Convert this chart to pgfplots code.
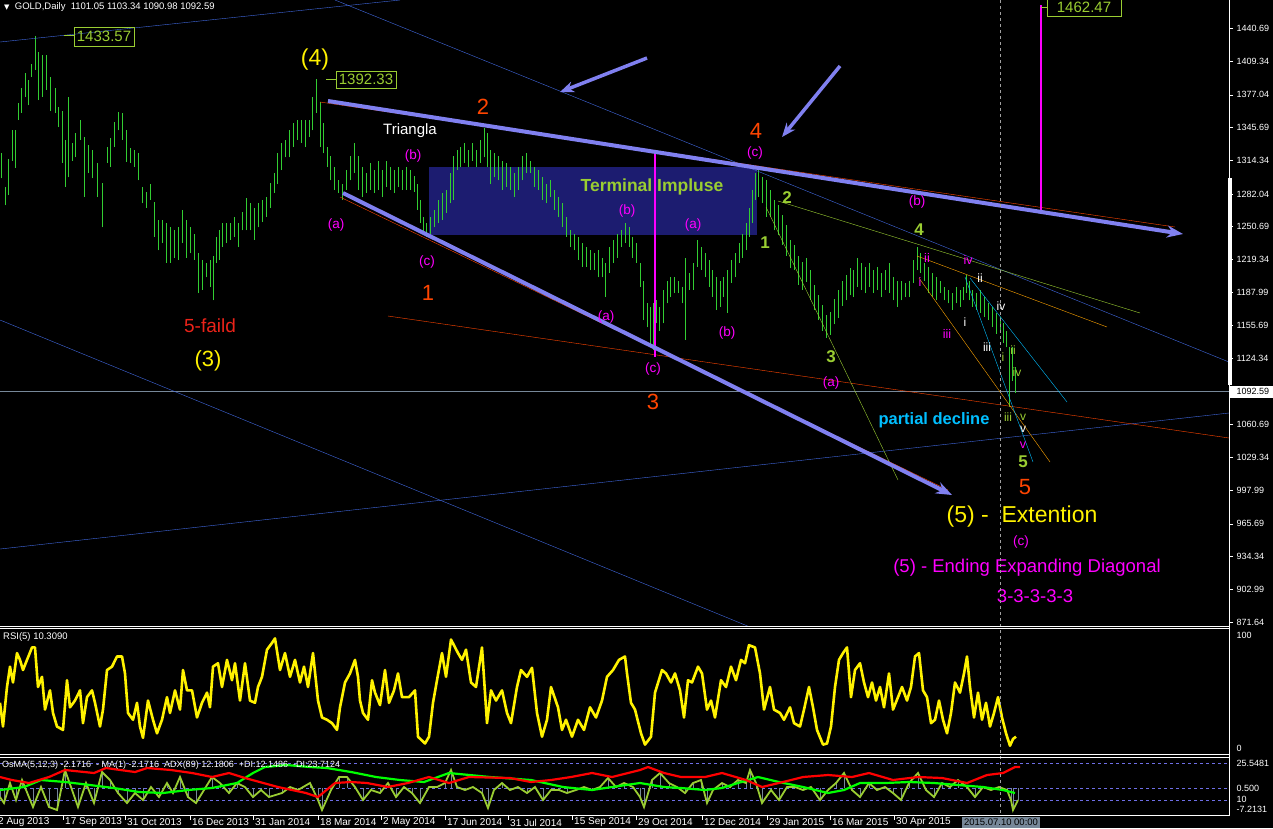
\documentclass[border=0pt]{standalone}
\usepackage{pgfplots}
\pgfplotsset{compat=1.18}
\usepackage{pgfplotstable}
\usepackage{fontspec}
\setmainfont{Liberation Sans}
\newfontfamily\dejavu{DejaVu Sans}
\usetikzlibrary{arrows.meta}
\definecolor{barg}{RGB}{50,205,50}
\definecolor{yg}{RGB}{154,205,50}
\definecolor{ored}{RGB}{255,69,0}
\definecolor{mag}{RGB}{255,0,255}
\definecolor{rblue}{RGB}{65,105,225}
\definecolor{slate}{RGB}{128,128,240}
\definecolor{navyb}{RGB}{28,28,112}
\definecolor{dsky}{RGB}{0,191,255}
\definecolor{org}{RGB}{255,165,0}
\definecolor{lsg}{RGB}{119,136,153}
\definecolor{fred}{RGB}{235,35,25}
\definecolor{dashb}{RGB}{110,110,230}
\definecolor{dgrey}{RGB}{160,160,160}
\definecolor{lime}{RGB}{0,255,0}
\newcommand{\fs}[1]{\fontsize{#1}{#1}\selectfont}

\pgfplotstableread[row sep=\\]{
x hi lo \\
1 1321 1297 \\ 5 1289 1271 \\ 8 1316 1281 \\ 12 1343 1314 \\ 15 1343 1307 \\ 18 1369 1353 \\
21 1384 1360 \\ 25 1398 1375 \\ 28 1391 1367 \\ 31 1407 1394 \\ 35 1433.57 1401 \\ 38 1418 1372 \\
42 1415 1375 \\ 46 1415 1382 \\ 50 1394 1362 \\ 55 1384 1360 \\ 58 1365 1346 \\ 62 1362 1312 \\
65 1334 1289 \\ 68 1375 1298 \\ 72 1331 1314 \\ 75 1340 1317 \\ 80 1353 1334 \\ 84 1337 1279 \\
88 1329 1302 \\ 92 1324 1297 \\ 97 1312 1279 \\ 102 1293 1250 \\ 107 1327 1312 \\ 110 1336 1308 \\
114 1351 1327 \\ 118 1361 1343 \\ 122 1360 1334 \\ 126 1343 1313 \\ 130 1326 1312 \\ 134 1324 1308 \\
138 1321 1295 \\ 142 1289 1273 \\ 146 1284 1269 \\ 150 1292 1276 \\ 154 1274 1241 \\ 158 1257 1228 \\
162 1257 1235 \\ 166 1254 1216 \\ 170 1250 1216 \\ 174 1247 1221 \\ 178 1250 1219 \\ 182 1267 1235 \\
186 1257 1221 \\ 190 1250 1225 \\ 194 1244 1219 \\ 198 1225 1187 \\ 202 1219 1190 \\ 206 1216 1202 \\
210 1219 1193 \\ 213 1223 1180 \\ 216 1241 1216 \\ 219 1247 1219 \\ 222 1254 1231 \\ 226 1254 1235 \\
230 1254 1238 \\ 234 1260 1241 \\ 238 1254 1231 \\ 242 1265 1247 \\ 246 1278 1247 \\ 250 1273 1247 \\
254 1269 1238 \\ 258 1273 1250 \\ 262 1276 1255 \\ 266 1279 1260 \\ 270 1293 1269 \\ 274 1302 1283 \\
277 1321 1292 \\ 281 1331 1305 \\ 285 1334 1317 \\ 289 1343 1317 \\ 293 1350 1327 \\ 297 1353 1334 \\
301 1353 1331 \\ 305 1353 1327 \\ 309 1353 1337 \\ 312 1375 1343 \\ 316 1392.33 1360 \\ 320 1370 1327 \\
323 1350 1321 \\ 327 1327 1308 \\ 330 1318 1295 \\ 334 1308 1286 \\ 338 1295 1283 \\ 342 1292 1276 \\
346 1305 1286 \\ 350 1318 1295 \\ 354 1331 1302 \\ 358 1318 1286 \\ 362 1308 1279 \\ 366 1302 1283 \\
370 1312 1286 \\ 374 1305 1283 \\ 378 1314 1286 \\ 382 1305 1279 \\ 386 1314 1289 \\ 390 1308 1286 \\
394 1305 1283 \\ 398 1308 1289 \\ 402 1305 1286 \\ 406 1308 1286 \\ 410 1305 1286 \\ 414 1299 1284 \\
417 1292 1267 \\ 420 1276 1254 \\ 423 1260 1244 \\ 426 1254 1241 \\ 430 1260 1244 \\ 434 1267 1250 \\
438 1276 1254 \\ 442 1283 1257 \\ 446 1286 1264 \\ 450 1302 1273 \\ 453 1318 1276 \\ 457 1324 1305 \\
460 1327 1308 \\ 464 1331 1312 \\ 468 1324 1308 \\ 472 1331 1314 \\ 476 1324 1308 \\ 480 1334 1312 \\
484 1345 1317 \\ 487 1340 1308 \\ 490 1324 1292 \\ 494 1321 1298 \\ 498 1318 1295 \\ 502 1314 1286 \\
506 1312 1289 \\ 510 1308 1286 \\ 514 1302 1279 \\ 518 1308 1286 \\ 522 1318 1295 \\ 526 1321 1302 \\
530 1314 1302 \\ 534 1308 1289 \\ 538 1305 1286 \\ 542 1298 1276 \\ 546 1292 1273 \\ 550 1295 1279 \\
554 1286 1267 \\ 558 1279 1260 \\ 562 1273 1250 \\ 566 1260 1241 \\ 570 1247 1231 \\ 574 1244 1228 \\
578 1241 1219 \\ 582 1235 1212 \\ 586 1231 1212 \\ 590 1228 1209 \\ 594 1225 1209 \\ 598 1228 1202 \\
602 1221 1202 \\ 605 1216 1183 \\ 609 1231 1206 \\ 613 1238 1216 \\ 617 1244 1221 \\ 621 1247 1231 \\
625 1254 1235 \\ 629 1250 1231 \\ 632 1241 1221 \\ 636 1235 1216 \\ 640 1216 1193 \\ 643 1199 1161 \\
647 1177 1154 \\ 650 1174 1135 \\ 653 1177 1132 \\ 656 1180 1158 \\ 659 1174 1151 \\ 663 1190 1158 \\
667 1199 1177 \\ 670 1202 1183 \\ 674 1202 1187 \\ 678 1199 1187 \\ 682 1193 1177 \\ 685 1221 1142 \\
689 1206 1190 \\ 693 1216 1190 \\ 697 1238 1212 \\ 701 1231 1209 \\ 705 1225 1202 \\ 709 1219 1193 \\
712 1209 1183 \\ 716 1202 1171 \\ 720 1199 1174 \\ 723 1202 1183 \\ 727 1209 1168 \\ 731 1219 1197 \\
735 1225 1202 \\ 739 1235 1216 \\ 742 1244 1221 \\ 746 1254 1228 \\ 749 1269 1241 \\ 752 1286 1254 \\
755 1302 1276 \\ 758 1305 1279 \\ 762 1298 1273 \\ 766 1295 1260 \\ 770 1286 1260 \\ 774 1276 1247 \\
778 1271 1243 \\ 782 1262 1233 \\ 786 1252 1223 \\ 790 1238 1211 \\ 794 1233 1209 \\ 798 1223 1195 \\
802 1217 1190 \\ 806 1221 1198 \\ 810 1209 1180 \\ 814 1195 1171 \\ 818 1185 1161 \\ 822 1176 1151 \\
826 1166 1144 \\ 830 1169 1147 \\ 834 1181 1157 \\ 838 1190 1163 \\ 842 1199 1175 \\ 846 1204 1180 \\
850 1211 1185 \\ 853 1209 1183 \\ 857 1221 1193 \\ 861 1216 1190 \\ 865 1212 1187 \\ 869 1216 1193 \\
873 1209 1187 \\ 877 1212 1190 \\ 881 1206 1183 \\ 885 1209 1190 \\ 889 1216 1187 \\ 893 1202 1180 \\
897 1199 1174 \\ 901 1199 1180 \\ 905 1197 1183 \\ 909 1199 1183 \\ 913 1219 1197 \\ 917 1231 1209 \\
920 1225 1206 \\ 924 1216 1199 \\ 928 1212 1187 \\ 932 1206 1183 \\ 936 1202 1180 \\ 940 1199 1187 \\
944 1193 1180 \\ 948 1190 1177 \\ 952 1187 1171 \\ 956 1193 1177 \\ 960 1190 1174 \\ 963 1193 1180 \\
966 1204 1187 \\ 969 1199 1180 \\ 972 1190 1174 \\ 976 1187 1171 \\ 980 1190 1168 \\ 984 1183 1164 \\
988 1177 1161 \\ 992 1174 1154 \\ 996 1168 1148 \\ 1000 1164 1151 \\ 1003 1158 1139 \\ 1006 1151 1135 \\
1009 1135 1078 \\ 1012 1135 1103 \\ 1015 1116 1091 \\
}\price

\pgfplotstableread[row sep=\\]{
x r \\
0 40 \\ 3 19 \\ 7 54 \\ 10 72 \\ 13 58 \\ 17 84 \\ 20 78 \\ 23 69 \\ 27 78 \\ 32 89 \\ 35 89 \\ 38 54 \\
42 63 \\ 45 34 \\ 50 51 \\ 53 31 \\ 57 19 \\ 63 16 \\ 67 60 \\ 70 36 \\ 75 42 \\ 80 51 \\ 83 22 \\ 87 45 \\
92 51 \\ 95 40 \\ 100 19 \\ 103 34 \\ 107 69 \\ 112 72 \\ 117 81 \\ 122 81 \\ 125 66 \\ 128 31 \\ 133 25 \\
137 40 \\ 140 19 \\ 143 9 \\ 148 42 \\ 153 25 \\ 157 13 \\ 162 25 \\ 167 45 \\ 170 31 \\ 175 51 \\ 180 34 \\
183 69 \\ 187 51 \\ 192 51 \\ 197 27 \\ 202 40 \\ 207 49 \\ 210 36 \\ 213 72 \\ 218 75 \\ 222 54 \\ 227 78 \\
232 60 \\ 235 75 \\ 240 42 \\ 245 75 \\ 250 42 \\ 255 40 \\ 258 54 \\ 262 63 \\ 267 87 \\ 272 93 \\ 275 97 \\
280 69 \\ 285 84 \\ 290 63 \\ 295 78 \\ 300 58 \\ 304 72 \\ 308 54 \\ 313 84 \\ 318 42 \\ 322 27 \\ 327 25 \\
332 22 \\ 337 16 \\ 340 36 \\ 345 58 \\ 350 66 \\ 355 78 \\ 358 63 \\ 360 42 \\ 363 31 \\ 368 25 \\ 372 60 \\
375 49 \\ 380 38 \\ 385 69 \\ 389 40 \\ 394 51 \\ 398 66 \\ 402 45 \\ 409 45 \\ 415 51 \\ 418 10 \\ 425 4 \\
429 10 \\ 433 40 \\ 437 60 \\ 442 84 \\ 446 63 \\ 451 96 \\ 458 84 \\ 462 78 \\ 466 87 \\ 471 58 \\ 476 54 \\
482 89 \\ 487 22 \\ 491 51 \\ 496 42 \\ 502 51 \\ 507 31 \\ 511 22 \\ 517 54 \\ 521 69 \\ 527 63 \\ 532 71 \\
537 31 \\ 542 10 \\ 547 25 \\ 551 54 \\ 558 36 \\ 562 16 \\ 566 25 \\ 572 10 \\ 578 25 \\ 584 16 \\ 590 36 \\
596 27 \\ 602 42 \\ 607 63 \\ 613 69 \\ 619 78 \\ 625 81 \\ 627 66 \\ 631 40 \\ 635 34 \\ 641 13 \\ 645 3 \\
651 10 \\ 655 49 \\ 662 69 \\ 666 66 \\ 671 58 \\ 675 66 \\ 680 51 \\ 684 27 \\ 688 60 \\ 692 58 \\ 698 72 \\
702 66 \\ 707 34 \\ 711 42 \\ 715 27 \\ 721 60 \\ 726 54 \\ 731 72 \\ 736 60 \\ 741 78 \\ 745 75 \\ 749 91 \\
755 89 \\ 760 66 \\ 764 34 \\ 770 54 \\ 774 34 \\ 780 31 \\ 784 25 \\ 790 36 \\ 794 22 \\ 800 19 \\ 804 34 \\
809 54 \\ 813 36 \\ 817 16 \\ 823 3 \\ 827 4 \\ 831 19 \\ 835 54 \\ 839 78 \\ 843 84 \\ 847 89 \\ 851 45 \\
855 69 \\ 860 75 \\ 864 58 \\ 868 45 \\ 872 58 \\ 876 42 \\ 880 54 \\ 884 36 \\ 889 66 \\ 893 34 \\ 898 45 \\
902 54 \\ 907 42 \\ 911 54 \\ 915 81 \\ 919 84 \\ 923 51 \\ 927 45 \\ 931 22 \\ 935 25 \\ 939 42 \\ 943 25 \\
947 13 \\ 951 31 \\ 955 58 \\ 960 49 \\ 964 66 \\ 967 81 \\ 970 54 \\ 974 27 \\ 978 49 \\ 982 25 \\ 986 40 \\
990 19 \\ 994 31 \\ 998 45 \\ 1002 27 \\ 1006 13 \\ 1010 2 \\ 1013 8 \\ 1016 10 \\
}\rsi

\pgfplotstableread[row sep=\\]{
x v \\
0 11 \\ 12 8 \\ 29 5 \\ 49 11 \\ 65 18 \\ 94 15 \\ 106 20 \\ 135 16 \\ 147 20 \\ 171 18 \\ 192 15 \\
212 11 \\ 229 15 \\ 245 10 \\ 278 1 \\ 306 -5 \\ 318 -9 \\ 335 5 \\ 351 6 \\ 367 5 \\ 388 1 \\ 408 5 \\
429 11 \\ 449 5 \\ 469 11 \\ 510 10 \\ 531 6 \\ 551 8 \\ 571 11 \\ 592 15 \\ 612 11 \\ 640 18 \\ 648 21 \\
664 15 \\ 681 11 \\ 705 11 \\ 722 15 \\ 746 8 \\ 762 1 \\ 783 6 \\ 803 11 \\ 828 13 \\ 852 11 \\ 869 15 \\
893 8 \\ 918 11 \\ 942 10 \\ 967 5 \\ 987 13 \\ 1003 15 \\ 1009 18 \\ 1015 21 \\ 1020 21 \\
}\dired

\pgfplotstableread[row sep=\\]{
x v \\
0 -2 \\ 24 1 \\ 41 8 \\ 65 6 \\ 90 3 \\ 114 0 \\ 139 -4 \\ 163 -5 \\ 188 -2 \\ 212 0 \\ 237 5 \\ 253 15 \\
265 21 \\ 286 23 \\ 310 21 \\ 327 20 \\ 351 16 \\ 376 11 \\ 400 8 \\ 424 6 \\ 449 15 \\ 490 11 \\ 531 8 \\
563 1 \\ 592 -2 \\ 612 1 \\ 640 5 \\ 664 1 \\ 681 0 \\ 705 -2 \\ 722 0 \\ 738 5 \\ 758 11 \\ 779 6 \\
803 1 \\ 828 -5 \\ 844 -2 \\ 860 5 \\ 885 5 \\ 909 6 \\ 934 5 \\ 958 3 \\ 983 1 \\ 1003 -2 \\ 1015 -5 \\
}\digreen

\pgfplotstableread[row sep=\\]{
x v \\
0 -9 \\ 4 -15 \\ 10 5 \\ 16 -12 \\ 22 8 \\ 33 -19 \\ 41 1 \\ 49 -19 \\ 57 -22 \\ 65 18 \\ 71 1 \\ 78 -19 \\
86 5 \\ 94 -15 \\ 102 16 \\ 110 8 \\ 118 -5 \\ 127 -15 \\ 135 -5 \\ 143 -12 \\ 151 1 \\ 159 -9 \\ 167 5 \\
173 -5 \\ 180 11 \\ 188 -9 \\ 196 -15 \\ 204 -2 \\ 212 11 \\ 220 5 \\ 229 -5 \\ 237 5 \\ 245 1 \\ 253 -9 \\
261 -2 \\ 269 -9 \\ 282 -5 \\ 290 1 \\ 298 -2 \\ 310 5 \\ 318 -12 \\ 322 -22 \\ 331 -2 \\ 339 11 \\ 347 11 \\
355 1 \\ 363 -12 \\ 371 -2 \\ 380 -5 \\ 388 5 \\ 396 -9 \\ 404 1 \\ 412 -5 \\ 420 -15 \\ 429 1 \\ 437 1 \\
445 5 \\ 451 18 \\ 457 1 \\ 465 -2 \\ 473 1 \\ 482 -5 \\ 488 -20 \\ 494 -2 \\ 502 5 \\ 510 -2 \\ 518 1 \\
527 -5 \\ 535 1 \\ 543 -12 \\ 551 -2 \\ 559 -2 \\ 567 -5 \\ 576 -2 \\ 584 1 \\ 592 -2 \\ 600 1 \\ 608 10 \\
616 1 \\ 624 5 \\ 633 1 \\ 640 -9 \\ 644 -19 \\ 652 8 \\ 660 15 \\ 669 5 \\ 677 1 \\ 685 -5 \\ 693 5 \\
701 8 \\ 707 -15 \\ 713 -2 \\ 722 5 \\ 730 1 \\ 738 8 \\ 746 5 \\ 750 18 \\ 756 5 \\ 762 -15 \\ 771 -2 \\
779 -12 \\ 787 1 \\ 795 1 \\ 803 -2 \\ 811 1 \\ 820 -12 \\ 828 -2 \\ 836 5 \\ 844 15 \\ 852 -2 \\ 860 -9 \\
869 5 \\ 877 -2 \\ 885 1 \\ 893 -5 \\ 901 -12 \\ 909 5 \\ 918 15 \\ 926 -2 \\ 934 -9 \\ 942 5 \\ 950 1 \\
958 8 \\ 967 1 \\ 975 -9 \\ 983 1 \\ 991 -2 \\ 999 1 \\ 1007 -2 \\ 1011 -12 \\ 1013 -22 \\ 1018 -12 \\
}\osc

\pgfplotsset{
  panel/.style={scale only axis, width=1229pt, xmin=0, xmax=1229, anchor=north west},
}

\begin{document}
\begin{tikzpicture}
\useasboundingbox (0pt,0pt) rectangle (1273pt,-828pt);
\fill[black] (0pt,0pt) rectangle (1273pt,-828pt);

% ---------- main price panel ----------
\begin{axis}[panel, at={(0pt,0pt)}, height=627pt, ymin=866.8, ymax=1468,
  axis x line=none, axis y line*=right,
  y axis line style={white, line width=0.8pt, -},
  ytick={871.64,902.99,934.34,965.69,997.99,1029.34,1060.69,1124.34,1155.69,1187.99,1219.34,1250.69,1282.04,1314.34,1345.69,1377.04,1409.34,1440.69},
  yticklabels={871.64,902.99,934.34,965.69,997.99,1029.34,1060.69,1124.34,1155.69,1187.99,1219.34,1250.69,1282.04,1314.34,1345.69,1377.04,1409.34,1440.69},
  tick style={white, line width=0.6pt}, major tick length=4pt, tick align=outside,
  yticklabel style={text=white, font=\fs{9}},
]
\fill[navyb] (axis cs:429,1307.9) rectangle (axis cs:757,1242.7);
\draw[lsg, line width=0.8pt] (axis cs:0,1092.59) -- (axis cs:1229,1092.59);
\addplot[draw=none, mark=none, forget plot,
  error bars/.cd, y dir=plus, y explicit, error mark=none,
  error bar style={draw=barg, line width=1pt}]
  table[x=x, y=lo, y error expr=\thisrow{hi}-\thisrow{lo}] {\price};
\end{axis}

% ---------- annotations (pixel frame of the price panel) ----------
\begin{axis}[panel, at={(0pt,0pt)}, height=627pt, ymin=0, ymax=627, y dir=reverse, hide axis, clip=false]
\draw[rblue] (0,42) -- (400,0);
\draw[rblue] (335,0) -- (1229,362);
\draw[rblue] (0,320) -- (750,627);
\draw[rblue] (0,549) -- (1229,413);
\draw[ored] (320,102) -- (1175,227);
\draw[ored] (340,197) -- (948,490);
\draw[ored] (388,316) -- (1229,438);
\draw[yg] (766,207) -- (898,480);
\draw[yg] (778,201) -- (1140,313);
\draw[org] (917,256) -- (1107,327);
\draw[org] (919,278) -- (1050,462);
\draw[dsky] (965,277) -- (1033,462);
\draw[dsky] (970,278) -- (1067,402);
\draw[mag, line width=2pt] (655,153) -- (655,357);
\draw[mag, line width=2pt] (1041,5) -- (1041,210);
\draw[yg] (1041,7) -- (1047,7);
\draw[yg] (64,35) -- (74,35);
\draw[yg] (326,79) -- (336,79);
\draw[slate, line width=4pt, -{Stealth[length=16pt,width=12pt]}] (328,101) -- (1183,234);
\draw[slate, line width=4pt, -{Stealth[length=16pt,width=12pt]}] (343,193) -- (952,495);
\draw[slate, line width=3.5pt, -{Stealth[length=14pt,width=11pt]}] (647,58) -- (560,92);
\draw[slate, line width=3.5pt, -{Stealth[length=14pt,width=11pt]}] (840,66) -- (782,137);

\node[draw=yg, text=yg, font=\fs{15}, minimum width=60pt, minimum height=19pt, inner sep=0pt] at (104,36.5) {1433.57};
\node[draw=yg, text=yg, font=\fs{15}, minimum width=60pt, minimum height=17pt, inner sep=0pt] at (366,79.5) {1392.33};
\node[draw=yg, text=yg, font=\fs{15}, minimum width=74pt, minimum height=17pt, inner sep=0pt] at (1084,7.5) {1462.47};

\node[yellow, font=\fs{23}] at (315,60) {(4)};
\node[yellow, font=\fs{22}] at (208,361) {(3)};
\node[fred, font=\fs{19}] at (210,326) {5-faild};
\node[white, font=\fs{15}] at (410,131) {Triangla};
\node[yg, font=\bfseries\fs{17.5}] at (652,187) {Terminal Impluse};
\node[dsky, font=\bfseries\fs{16.5}] at (934,420) {partial decline};
\node[yellow, font=\fs{23}] at (1022,517) {(5) -\ \ Extention};
\node[mag, font=\fs{18.5}] at (1027,568) {(5) - Ending Expanding Diagonal};
\node[mag, font=\fs{18.5}] at (1035,596) {3-3-3-3-3};

\node[ored, font=\fs{22}] at (483,107) {2};
\node[ored, font=\fs{22}] at (428,293) {1};
\node[ored, font=\fs{22}] at (653,402) {3};
\node[ored, font=\fs{22}] at (756,131) {4};
\node[ored, font=\fs{22}] at (1025,487) {5};

\node[yg, font=\bfseries\fs{17}] at (787,198) {2};
\node[yg, font=\bfseries\fs{17}] at (765,243) {1};
\node[yg, font=\bfseries\fs{17}] at (831,357) {3};
\node[yg, font=\bfseries\fs{17}] at (919,230) {4};
\node[yg, font=\bfseries\fs{17}] at (1023,462) {5};

\node[mag, font=\fs{13.5}] at (413,156) {(b)};
\node[mag, font=\fs{13.5}] at (336,225) {(a)};
\node[mag, font=\fs{13.5}] at (427,262) {(c)};
\node[mag, font=\fs{13.5}] at (627,211) {(b)};
\node[mag, font=\fs{13.5}] at (693,225) {(a)};
\node[mag, font=\fs{13.5}] at (606,317) {(a)};
\node[mag, font=\fs{13.5}] at (653,369) {(c)};
\node[mag, font=\fs{13.5}] at (727,333) {(b)};
\node[mag, font=\fs{13.5}] at (755,153) {(c)};
\node[mag, font=\fs{13.5}] at (831,383) {(a)};
\node[mag, font=\fs{13.5}] at (917,202) {(b)};
\node[mag, font=\fs{13.5}] at (1021,542) {(c)};

\node[mag, font=\fs{12.5}] at (927,258) {ii};
\node[mag, font=\fs{12.5}] at (920,282) {i};
\node[mag, font=\fs{12.5}] at (947,334) {iii};
\node[mag, font=\fs{12.5}] at (968,260) {iv};
\node[mag, font=\fs{12.5}] at (1023,445) {v};
\node[white, font=\fs{12}] at (980,278) {ii};
\node[white, font=\fs{12}] at (965,322) {i};
\node[white, font=\fs{12}] at (1001,306) {iv};
\node[white, font=\fs{12}] at (987,347) {iii};
\node[white, font=\fs{12}] at (1023,429) {v};
\node[yg, font=\fs{12}] at (1003,357) {i};
\node[yg, font=\fs{12}] at (1013,350) {ii};
\node[yg, font=\fs{12}] at (1017,372) {iv};
\node[yg, font=\fs{12}] at (1008,417) {iii};
\node[yg, font=\fs{12}] at (1023,417) {v};
\end{axis}

% ---------- RSI panel ----------
\begin{axis}[panel, at={(0pt,-628pt)}, height=126pt, ymin=-5.31, ymax=106.19, hide axis]
\addplot[yellow, line width=2.6pt, line join=round, mark=none] table[x=x, y=r] {\rsi};
\end{axis}

% ---------- OsMA / ADX panel ----------
\begin{axis}[panel, at={(0pt,-757pt)}, height=58pt, ymin=-27, ymax=31, hide axis]
\draw[dashb, dash pattern=on 3pt off 3pt] (axis cs:0,25) -- (axis cs:1229,25);
\draw[dashb, dash pattern=on 3pt off 3pt] (axis cs:0,0) -- (axis cs:1229,0);
\draw[dashb, dash pattern=on 3pt off 3pt] (axis cs:0,-12) -- (axis cs:1229,-12);
\addplot[lsg, ycomb, line width=0.7pt, mark=none] table[x=x, y=v] {\osc};
\addplot[yg, line width=1.8pt, mark=none] table[x=x, y=v] {\osc};
\addplot[lime, line width=2.2pt, mark=none] table[x=x, y=v] {\digreen};
\addplot[red, line width=2.2pt, mark=none] table[x=x, y=v] {\dired};
\end{axis}

% ---------- frame, separators, labels ----------
\draw[dgrey, dash pattern=on 3pt off 3pt] (1000pt,0pt) -- (1000pt,-815pt);
\foreach \yy in {626,628.5,754.5,757,815.5}{\draw[white, line width=0.8pt] (0pt,-\yy pt) -- (1229pt,-\yy pt);}
\draw[white, line width=0.8pt] (1229pt,0pt) -- (1229pt,-816pt);
\fill[white] (1228pt,-178pt) rectangle (1231.5pt,-385pt);
\fill[white] (1229pt,-385.5pt) rectangle (1273pt,-398pt);
\node[black, font=\fs{9}, anchor=west] at (1233pt,-391.8pt) {1092.59};

\node[white, font=\fs{9.5}, anchor=west, inner sep=0pt] at (4pt,-7pt) {{\dejavu\fs{7}▼}\ \ GOLD,Daily\ \ 1101.05 1103.34 1090.98 1092.59};
\node[white, font=\fs{9.5}, anchor=west, inner sep=0pt] at (3pt,-637pt) {RSI(5) 10.3090};
\node[white, font=\fs{9}, anchor=west, inner sep=0pt] at (2pt,-765pt) {OsMA(5,12,3) -2.1716\ \ - MA(1) -2.1716\ \ ADX(89) 12.1806\ \ +DI:12.1486\ \ -DI:23.7124};

\node[white, font=\fs{9}, anchor=west] at (1233pt,-635pt) {100};
\node[white, font=\fs{9}, anchor=west] at (1233pt,-748pt) {0};
\node[white, font=\fs{9}, anchor=west] at (1233pt,-763pt) {25.5481};
\node[white, font=\fs{9}, anchor=west] at (1233pt,-788pt) {0.500};
\node[white, font=\fs{9}, anchor=west] at (1233pt,-799pt) {10};
\node[white, font=\fs{9}, anchor=west] at (1233pt,-809pt) {-7.2131};

\foreach \xx/\lab in {-4/{2 Aug 2013},63/{17 Sep 2013},125/{31 Oct 2013},190/{16 Dec 2013},253/{31 Jan 2014},318/{18 Mar 2014},381/{2 May 2014},445/{17 Jun 2014},508/{31 Jul 2014},572/{15 Sep 2014},636/{29 Oct 2014},702/{12 Dec 2014},767/{29 Jan 2015},830/{16 Mar 2015},894/{30 Apr 2015}}{
  \draw[white, line width=0.6pt] (\xx pt,-816pt) -- (\xx pt,-820pt);
  \node[white, font=\fs{10}, anchor=west, inner sep=0pt] at (\xx pt+2pt,-822.5pt) {\lab};
}
\fill[lsg] (962pt,-817pt) rectangle (1040pt,-828pt);
\node[black, font=\fs{9.5}, inner sep=0pt] at (1001pt,-822.5pt) {2015.07.10 00:00};
\end{tikzpicture}
\end{document}
